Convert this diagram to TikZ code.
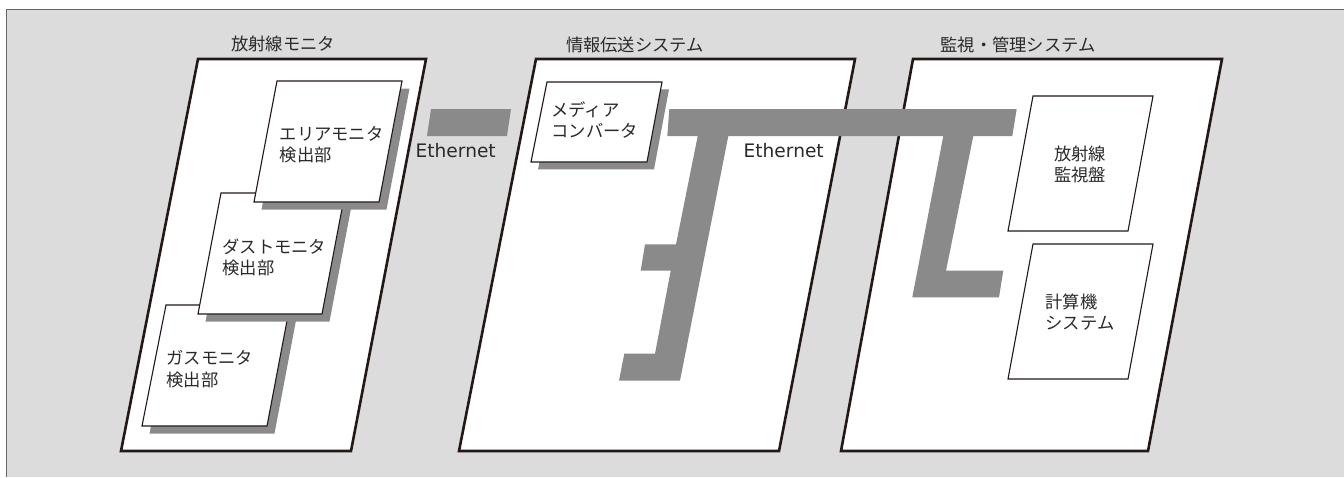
\documentclass[tikz,border=0pt]{standalone}
\usepackage{fontspec}
\setmainfont{Noto Sans CJK JP}
\newfontfamily\latinfont{DejaVu Sans}
\definecolor{bgc}{HTML}{DCDCDC}
\definecolor{framec}{HTML}{6A6464}
\definecolor{ink}{HTML}{231815}
\definecolor{txt}{HTML}{2A2A2A}
\definecolor{netgray}{HTML}{8A8A8A}
\begin{document}
\begin{tikzpicture}[x=1pt,y=-1pt,
  panel/.style={fill=white,draw=ink,line width=2.6pt,line join=miter},
  inbox/.style={fill=white,draw=ink,line width=1.1pt},
  shadowbox/.style={fill=netgray},
  net/.style={fill=netgray},
  lbl/.style={font=\fontsize{17.3}{21.5}\selectfont,text=txt,inner sep=0pt,align=left},
  eth/.style={font=\latinfont\fontsize{18.6}{21}\selectfont,text=txt,inner sep=0pt},
]
\useasboundingbox (0,0) rectangle (1344,477);
\fill[white] (0,0) rectangle (1344,477);
\fill[bgc] (6,9) rectangle (1344,477);
\draw[framec,line width=1pt] (6,477) -- (6,9) -- (1344,9);

% panels
\draw[panel] (198,59) -- (426,59) -- (351,451) -- (121,451) -- cycle;
\draw[panel] (536,59) -- (855,59) -- (779,451) -- (459,451) -- cycle;
\draw[panel] (913,59) -- (1222,59) -- (1148,451) -- (841,451) -- cycle;

% left detector boxes
\fill[shadowbox,shift={(7.5,7.5)}] (166,305) -- (290,305) -- (267,426) -- (142,426) -- cycle;
\draw[inbox] (166,305) -- (290,305) -- (267,426) -- (142,426) -- cycle;
\fill[shadowbox,shift={(7.5,7.5)}] (221,193) -- (345,193) -- (322,314) -- (198,314) -- cycle;
\draw[inbox] (221,193) -- (345,193) -- (322,314) -- (198,314) -- cycle;
\fill[shadowbox,shift={(7.5,7.5)}] (277,81) -- (402,81) -- (379,202) -- (254,202) -- cycle;
\draw[inbox] (277,81) -- (402,81) -- (379,202) -- (254,202) -- cycle;

% media converter
\fill[shadowbox,shift={(7,7.3)}] (547,82) -- (662,82) -- (647,162) -- (531,162) -- cycle;
\draw[inbox] (547,82) -- (662,82) -- (647,162) -- (531,162) -- cycle;

% right boxes
\draw[inbox] (1033,96) -- (1153,96) -- (1128,231) -- (1008,231) -- cycle;
\draw[inbox] (1033,244) -- (1153,244) -- (1128,379) -- (1008,379) -- cycle;

% ethernet links
\fill[net] (431,109) -- (511,109) -- (507,136) -- (427,136) -- cycle;
\fill[net] (669.3,109) -- (1016.7,109) -- (1012.3,136) -- (973.3,136)
  -- (946,270.7) -- (1003.3,270.7) -- (999,297.3) -- (912.3,297.3)
  -- (943.3,136) -- (728.3,136) -- (680,380.7) -- (619,380.7)
  -- (624.3,353.7) -- (655,353.7) -- (670.7,270.7) -- (640.7,270.7)
  -- (645,244.3) -- (676,244.3) -- (697.7,136) -- (667.3,136) -- cycle;

% texts
\node[lbl] (t1) at (283,44) {放射線モニタ};
\node[lbl] (t2) at (635,45) {情報伝送システム};
\node[lbl] (t3) at (1018,45) {監視・管理システム};
\node[lbl,anchor=west] (area) at (279.5,144.5) {エリアモニタ\\検出部};
\node[lbl,anchor=west] (dust) at (222.2,257.5) {ダストモニタ\\検出部};
\node[lbl,anchor=west] (gas) at (166.2,369) {ガスモニタ\\検出部};
\node[lbl,anchor=west] (mc) at (551.2,120) {メディア\\コンバータ};
\node[lbl,align=center] (rad) at (1080,164.5) {放射線\\監視盤};
\node[lbl] (comp) at (1080,312) {計算機\\システム};
\node[eth] (eth1) at (455.7,151) {Ethernet};
\node[eth] (eth2) at (783.7,151) {Ethernet};
\end{tikzpicture}
\end{document}
